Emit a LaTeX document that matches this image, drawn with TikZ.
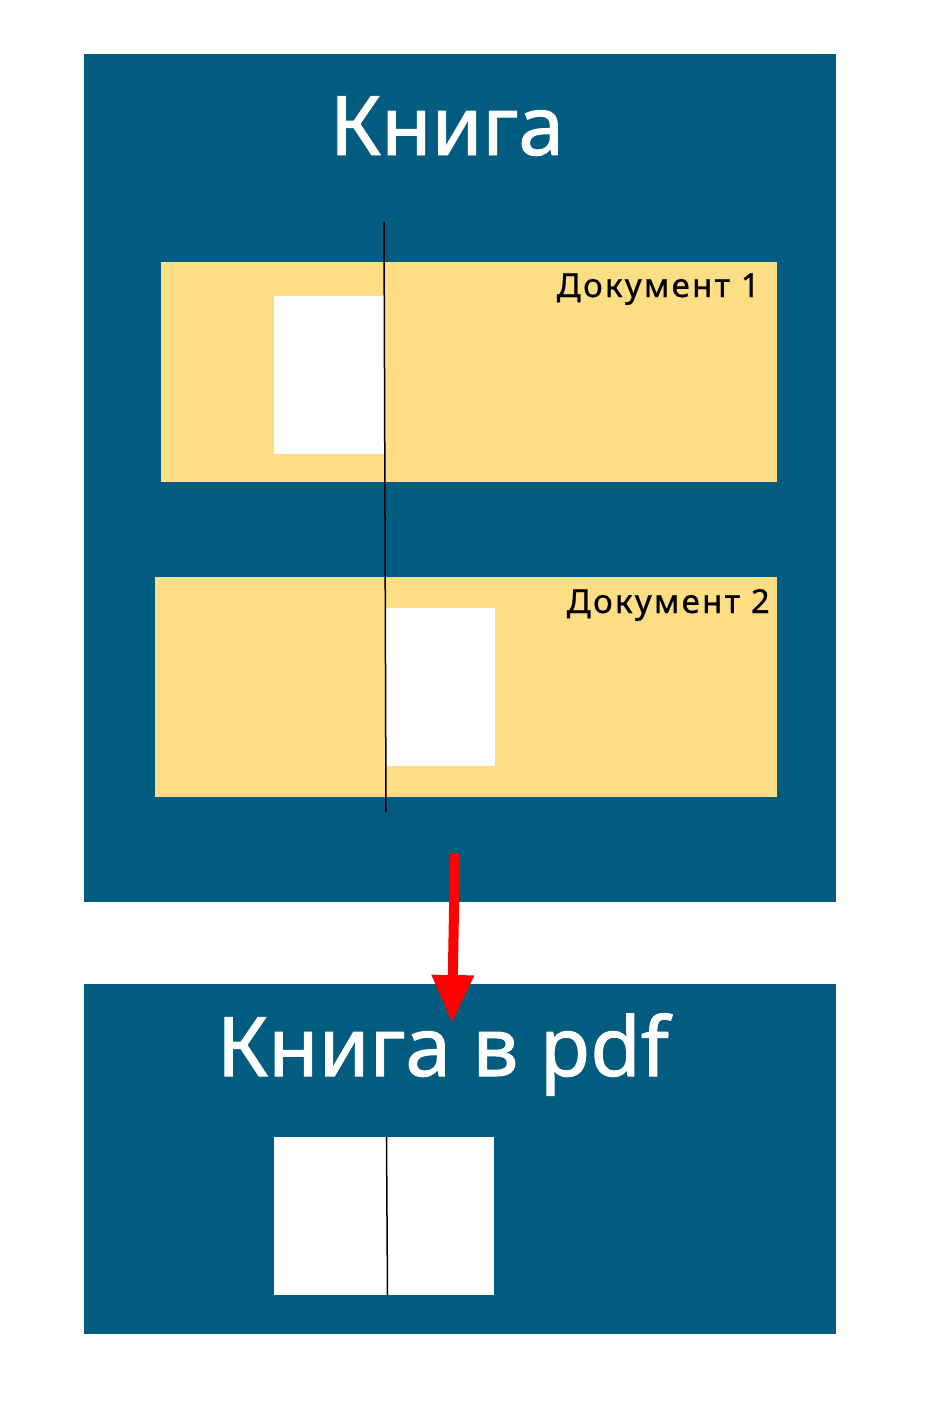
\documentclass[tikz,border=0pt]{standalone}
\usepackage{fontspec}
\setmainfont{Noto Sans}
\newfontfamily\titlefont[FakeBold=1.2]{Noto Sans}
\newfontfamily\docfont[LetterSpace=7,FakeBold=0.8]{Noto Sans}
\usetikzlibrary{arrows.meta}
\definecolor{bookblue}{RGB}{2,92,128}
\definecolor{docyellow}{RGB}{253,222,133}
\definecolor{arrowred}{RGB}{255,0,0}
\begin{document}
\begin{tikzpicture}[x=1pt,y=-1pt,
  panel/.style={fill=bookblue,draw=none},
  docbox/.style={fill=docyellow,draw=none},
  page/.style={fill=white,draw=none},
  title/.style={text=white,inner sep=0pt,font=\titlefont\fontsize{82}{82}\selectfont},
  doclabel/.style={text=black,inner sep=0pt,font=\docfont\fontsize{33}{33}\selectfont},
  spine/.style={draw=black,line width=1.5pt}]
\fill[white] (0,0) rectangle (934,1406);
\useasboundingbox (0,0) rectangle (934,1406);
% top panel
\fill[panel] (84,54) rectangle (836,902);
\node[title,anchor=base] (t1) at (447,155) {Книга};
\fill[docbox] (161,262) rectangle (777,482);
\fill[page] (274,296) rectangle (384,454);
\node[doclabel,anchor=base east] (d1) at (760,297) {Документ 1};
\fill[docbox] (155,577) rectangle (777,797);
\fill[page] (386,608) rectangle (495,766);
\node[doclabel,anchor=base east] (d2) at (770,613) {Документ 2};
\coordinate (s1) at (384,222);
\coordinate (s2) at (386,812);
\draw[spine] (s1) -- (s2);
% bottom panel
\fill[panel] (84,984) rectangle (836,1334);
\node[title,anchor=base] (t2) at (443,1076) {Книга в pdf};
\fill[page] (274,1137) rectangle (494,1295);
\coordinate (p1) at (386.5,1137);
\coordinate (p2) at (387.5,1295);
\draw[spine] (p1) -- (p2);
% arrow
\coordinate (a1) at (455,853);
\coordinate (a2) at (452,1023);
\draw[arrowred,line width=10pt,-{Triangle[length=48pt,width=40pt]}] (a1) -- (a2);
\end{tikzpicture}
\end{document}
